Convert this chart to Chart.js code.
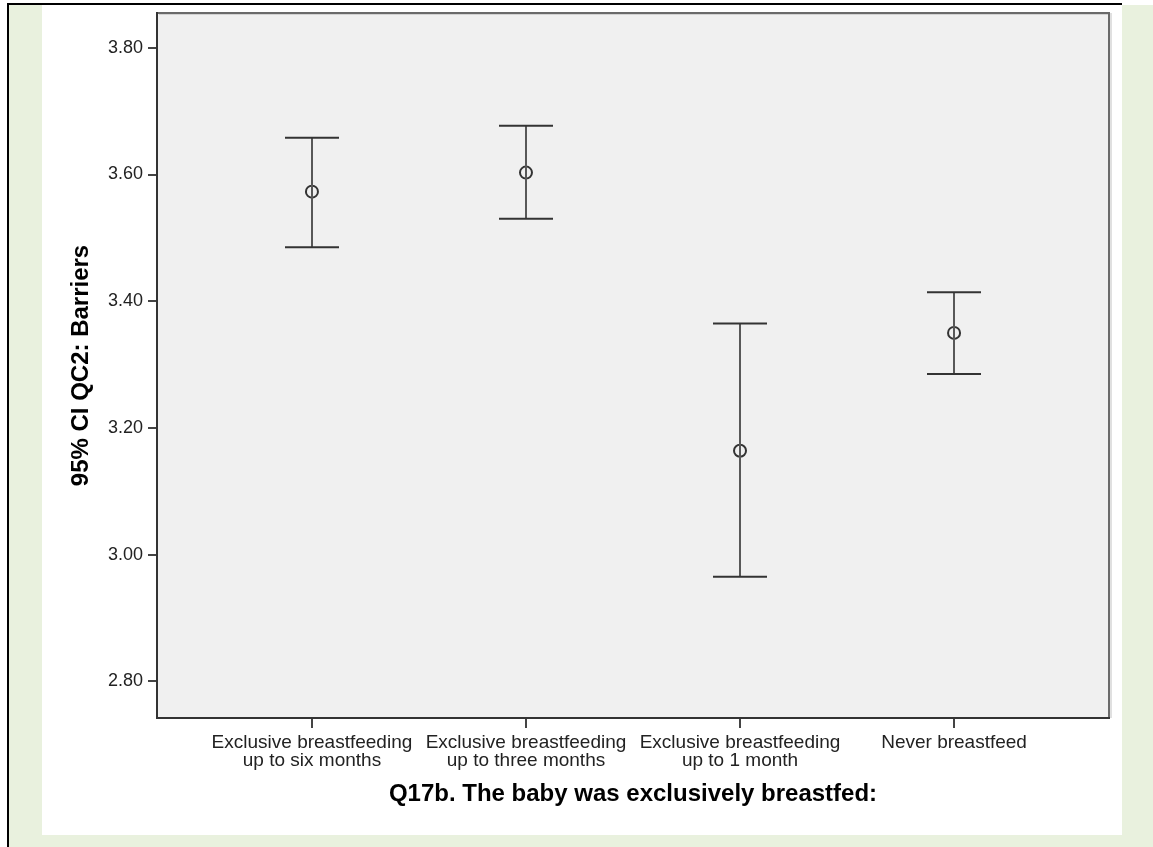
<!DOCTYPE html>
<html>
<head>
<meta charset="utf-8">
<script src="https://cdn.jsdelivr.net/npm/chart.js@4.4.1/dist/chart.umd.min.js"></script>
<style>
  html, body { margin: 0; padding: 0; background: #ffffff; width: 1153px; height: 847px; overflow: hidden; position: relative; }
  #green { position: absolute; left: 9px; top: 5px; right: 0; bottom: 0; background: #e9f1de; }
  #bl { position: absolute; left: 7px; top: 3px; width: 2px; height: 844px; background: #000; }
  #bt { position: absolute; left: 7px; top: 3px; width: 1115px; height: 2px; background: #000; }
  #panel { position: absolute; left: 42px; top: 5px; width: 1080px; height: 830px; background: #fff; }
  canvas { display: block; }
</style>
</head>
<body>
<div id="green"></div>
<div id="bl"></div>
<div id="bt"></div>
<div id="panel"><canvas id="c" width="1080" height="830"></canvas></div>
<script>
// ---- DATA ----
const categories = [
  ["Exclusive breastfeeding", "up to six months"],
  ["Exclusive breastfeeding", "up to three months"],
  ["Exclusive breastfeeding", "up to 1 month"],
  ["Never breastfeed"]
];
const means = [3.573, 3.603, 3.164, 3.350];
const lowerCI = [3.485, 3.530, 2.965, 3.285];
const upperCI = [3.658, 3.677, 3.365, 3.414];
const yTickValues = [2.80, 3.00, 3.20, 3.40, 3.60, 3.80];
const yTitle = "95% CI QC2: Barriers";
const xTitle = "Q17b. The baby was exclusively breastfed:";

const FONT = "'Liberation Sans', Arial, sans-serif";

const bgPlugin = {
  id: 'bgPlugin',
  beforeDraw(chart) {
    const {ctx, chartArea: a} = chart;
    ctx.save();
    ctx.fillStyle = '#f0f0f0';
    ctx.fillRect(a.left, a.top, a.right - a.left, a.bottom - a.top);
    ctx.strokeStyle = 'rgba(0,0,0,0.12)';
    ctx.lineWidth = 2;
    ctx.beginPath();
    ctx.moveTo(a.left + 2, a.top + 1);
    ctx.lineTo(a.right + 2, a.top + 1);
    ctx.lineTo(a.right + 2, a.bottom);
    ctx.stroke();
    ctx.strokeStyle = '#6a6a6a';
    ctx.lineWidth = 2;
    ctx.beginPath();
    ctx.moveTo(a.left, a.top);
    ctx.lineTo(a.right, a.top);
    ctx.lineTo(a.right, a.bottom);
    ctx.stroke();
    ctx.restore();
  }
};

const errorBarPlugin = {
  id: 'errorBars',
  afterDatasetsDraw(chart) {
    const {ctx, scales: {x, y}} = chart;
    ctx.save();
    means.forEach((m, i) => {
      const px = Math.round(x.getPixelForValue(i));
      const pLo = y.getPixelForValue(lowerCI[i]);
      const pHi = y.getPixelForValue(upperCI[i]);
      ctx.strokeStyle = '#585858';
      ctx.lineWidth = 2;
      ctx.beginPath();
      ctx.moveTo(px, pHi);
      ctx.lineTo(px, pLo);
      ctx.stroke();
      ctx.strokeStyle = '#333333';
      ctx.lineWidth = 2;
      ctx.beginPath();
      ctx.moveTo(px - 27, pHi);
      ctx.lineTo(px + 27, pHi);
      ctx.moveTo(px - 27, pLo);
      ctx.lineTo(px + 27, pLo);
      ctx.stroke();
    });
    ctx.restore();
  }
};

new Chart(document.getElementById('c'), {
  type: 'scatter',
  data: {
    datasets: [{
      data: means.map((m, i) => ({x: i, y: m})),
      pointStyle: 'circle',
      pointRadius: 6,
      pointHoverRadius: 6,
      pointBorderWidth: 2,
      pointBorderColor: '#333333',
      pointBackgroundColor: 'rgba(0,0,0,0)',
      showLine: false
    }]
  },
  options: {
    responsive: false,
    animation: false,
    devicePixelRatio: 1,
    layout: { padding: { left: 0, top: 7, right: 13, bottom: 0 } },
    plugins: { legend: { display: false }, tooltip: { enabled: false } },
    scales: {
      x: {
        type: 'linear',
        min: -0.724,
        max: 3.724,
        afterBuildTicks(scale) { scale.ticks = categories.map((c, i) => ({ value: i })); },
        afterFit(scale) { scale.height = 117; scale.paddingLeft = 0; scale.paddingRight = 0; },
        ticks: {
          autoSkip: false,
          maxRotation: 0,
          padding: 6,
          color: '#222222',
          font: { family: FONT, size: 19, lineHeight: 0.95 },
          callback: (v) => categories[v]
        },
        grid: { drawOnChartArea: false, drawTicks: true, tickLength: 10, color: '#444444', lineWidth: 2 },
        border: { display: true, color: '#333333', width: 2 },
        title: {
          display: true, text: xTitle, color: '#000000',
          font: { family: FONT, size: 24, weight: 'bold', lineHeight: 1.2 },
          padding: { top: 0, bottom: 26 }
        }
      },
      y: {
        type: 'linear',
        min: 2.742,
        max: 3.855,
        afterBuildTicks(scale) { scale.ticks = yTickValues.map(v => ({ value: v })); },
        afterFit(scale) { scale.width = 115; scale.paddingTop = 0; scale.paddingBottom = 0; },
        ticks: {
          padding: 5,
          color: '#222222',
          font: { family: FONT, size: 18 },
          callback: (v) => Number(v).toFixed(2)
        },
        grid: { drawOnChartArea: false, drawTicks: true, tickLength: 9, color: '#444444', lineWidth: 2 },
        border: { display: true, color: '#333333', width: 2 },
        title: {
          display: true, text: yTitle, color: '#000000',
          font: { family: FONT, size: 24, weight: 'bold', lineHeight: 1.2 },
          padding: { top: 25, bottom: 0 }
        }
      }
    }
  },
  plugins: [bgPlugin, errorBarPlugin]
});
</script>
</body>
</html>
